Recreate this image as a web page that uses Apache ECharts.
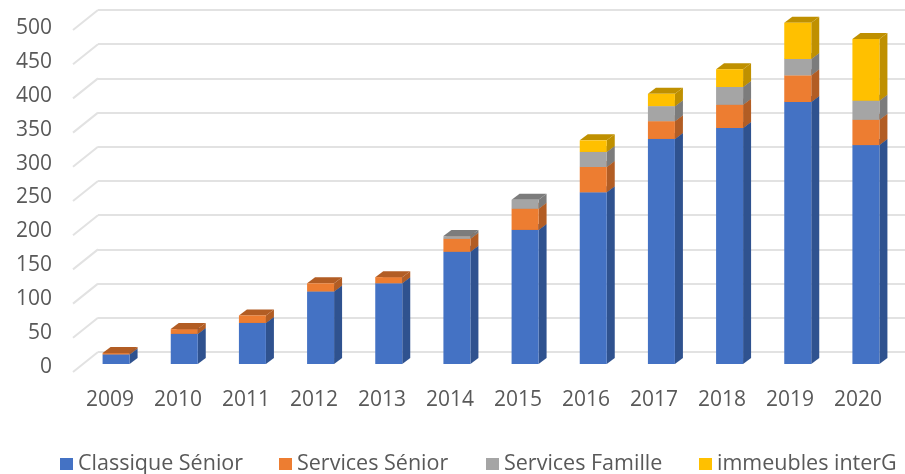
<!DOCTYPE html>
<html><head><meta charset="utf-8">
<style>html,body{margin:0;padding:0;background:#fff}#c{width:905px;height:474px}</style>
<script src="https://cdn.jsdelivr.net/npm/echarts@6/dist/echarts.min.js"></script>
</head><body><div id="c"></div>
<script>
const years = ['2009','2010','2011','2012','2013','2014','2015','2016','2017','2018','2019','2020'];
const classique = [14,44,60,106,118,164,196,251,329,345,383,320];
const servicesSenior = [2,7,11,12,9,19,31,37,26,34,39,37];
const servicesFamille = [0,0,0,0,0,4,13,22,22,26,24,28];
const immeubles = [0,0,0,0,0,0,0,17,18,26,53,90];
const yTicks = [0,50,100,150,200,250,300,350,400,450,500];

const names = ['Classique Sénior','Services Sénior','Services Famille','immeubles interG'];
const values = [classique, servicesSenior, servicesFamille, immeubles];
const front = ['#4472C4','#ED7D31','#A5A5A5','#FFC000'];
const side = ['#2F528F','#B25D24','#7C7C7C','#BF9000'];
const legendLeft = [55, 274, 481, 694];
const DX = 8, DY = 6, BAR = 27;
const GRID_COLOR = '#E2E2E2';

const running = years.map(() => 0);
const stackSeries = values.map((vals, s) => {
  const data = vals.map((v, i) => {
    const b = running[i];
    running[i] += v;
    return [i, b, running[i]];
  });
  return {
    name: names[s], type: 'custom', xAxisIndex: 1, yAxisIndex: 1,
    itemStyle: { color: front[s] }, z: 5 + s,
    encode: { x: 0, y: [1, 2] }, data,
    renderItem(params, api) {
      const b = api.value(1), t = api.value(2);
      if (t <= b) return null;
      const [cx, yB] = api.coord([api.value(0), b]);
      const yT = api.coord([api.value(0), t])[1];
      const l = cx - BAR / 2, r = cx + BAR / 2;
      const poly = (points, fill) => ({ type: 'polygon', shape: { points }, style: { fill } });
      return { type: 'group', children: [
        poly([[l, yT], [l + DX, yT - DY], [r + DX, yT - DY], [r, yT]], side[s]),
        poly([[r, yT], [r + DX, yT - DY], [r + DX, yB - DY], [r, yB]], side[s]),
        poly([[l, yT], [r, yT], [r, yB], [l, yB]], front[s])
      ]};
    }
  };
});

const wall = {
  type: 'custom', xAxisIndex: 0, yAxisIndex: 0, silent: true, z: 1,
  data: yTicks.map(v => [0, v]), encode: { x: 0, y: 1 },
  renderItem(params, api) {
    const y = api.coord([0, api.value(1)])[1];
    const x = params.coordSys.x;
    return { type: 'line', shape: { x1: x, y1: y, x2: x - 25, y2: y + 20 },
      style: { stroke: GRID_COLOR, lineWidth: 2 } };
  }
};

const font = { fontFamily: '"Open Sans"', fontSize: 21, color: '#595959' };
const yBase = { type: 'value', min: 0, max: 500, interval: 50 };

const option = {
  animation: false,
  legend: names.map((n, i) => ({
    data: [n], left: legendLeft[i], top: 448, icon: 'rect', itemWidth: 13, itemHeight: 12, itemGap: 6,
    selectedMode: false, textStyle: { fontFamily: '"Open Sans"', fontSize: 21.5, color: '#595959' }
  })),
  grid: [
    { left: 98, right: 0, top: 10, height: 342 },
    { left: 82, width: 818, top: 22, height: 342 },
    { left: 76, width: 816, top: 28, height: 339 }
  ],
  xAxis: [0, 1, 2].map(g => ({
    type: 'category', gridIndex: g, data: years,
    axisLine: { show: false }, axisTick: { show: false },
    axisLabel: g === 2 ? { show: true, margin: 23, interval: 0, ...font } : { show: false }
  })),
  yAxis: [
    { ...yBase, gridIndex: 0, axisLabel: { show: false }, axisLine: { show: false }, axisTick: { show: false },
      splitLine: { show: true, lineStyle: { color: GRID_COLOR, width: 2 } } },
    { ...yBase, gridIndex: 1, axisLabel: { show: false }, axisLine: { show: false }, axisTick: { show: false }, splitLine: { show: false } },
    { ...yBase, gridIndex: 2, axisLine: { show: false }, axisTick: { show: false }, splitLine: { show: false },
      axisLabel: { margin: 24, ...font } }
  ],
  series: [wall, ...stackSeries]
};
echarts.init(document.getElementById('c'), null, { renderer: 'canvas' }).setOption(option);
</script></body></html>
